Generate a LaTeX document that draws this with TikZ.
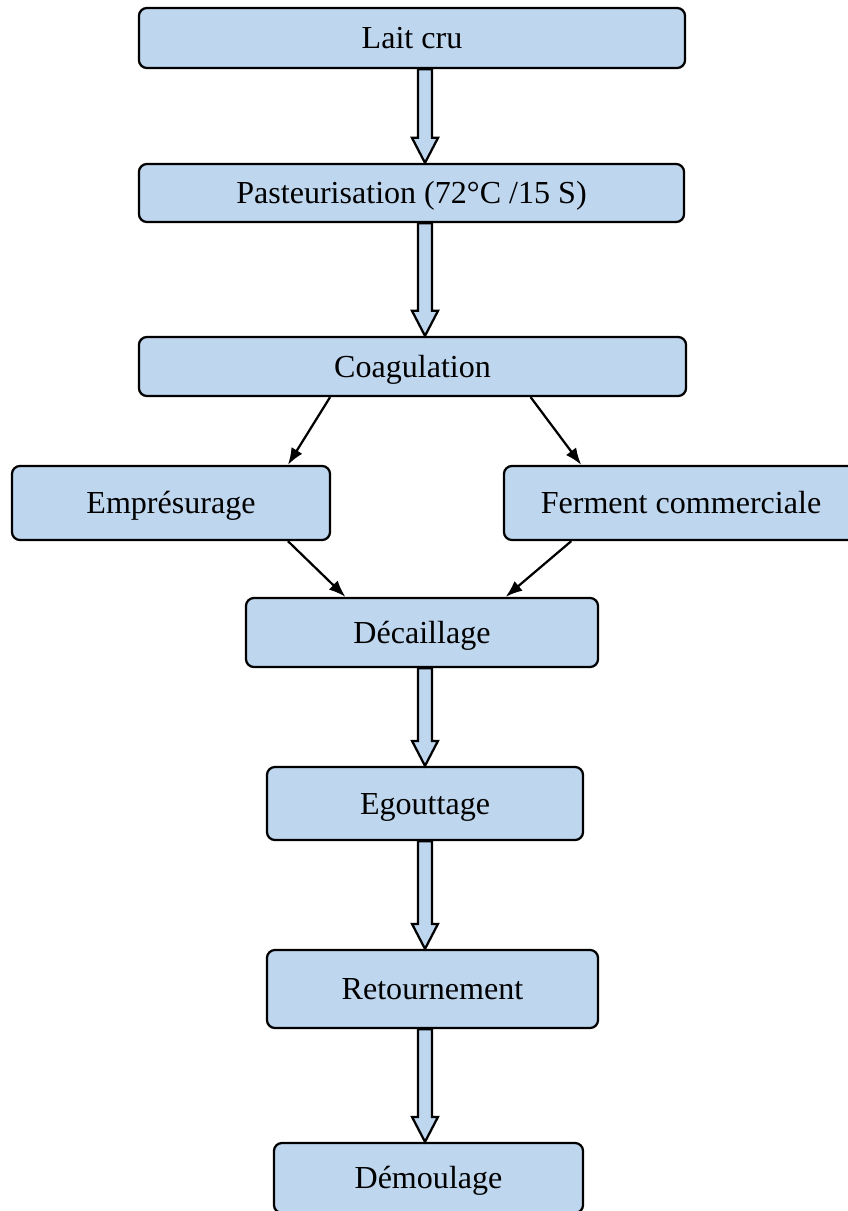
\documentclass[tikz,border=0pt]{standalone}
\usepackage{fontspec}
\setmainfont{Liberation Serif}
\usepackage{xcolor}
\usetikzlibrary{calc,arrows.meta}
\definecolor{boxblue}{RGB}{190,214,238}
\newcommand{\flowarrow}[2]{%
	\path (#1.south -| axis) coordinate (fa) (#2.north -| axis) coordinate (fb);
	\draw[flow] ($(fa)+(-7,0)$) -- ($(fb)+(-7,-25)$) -- ($(fb)+(-13,-25)$) -- (fb)
		-- ($(fb)+(13,-25)$) -- ($(fb)+(7,-25)$) -- ($(fa)+(7,0)$) -- cycle;
}

\begin{document}
\begin{tikzpicture}[x=0.025cm,y=-0.025cm,
	stage/.style={draw, line width=1.6pt, rounded corners=0.2cm, fill=boxblue, font=\fontsize{22.8}{27}\selectfont, inner sep=0pt, text height=20pt, text depth=4.5pt},
	flow/.style={draw, line width=1.6pt, fill=boxblue, line join=miter},
	link/.style={-{Latex[length=12pt,width=9pt]}, line width=1.6pt}]
	\useasboundingbox (0,0) rectangle (848,1211);
	\clip (0,0) rectangle (848,1211);
	\coordinate (axis) at (425,0);
	\node[stage, minimum width=13.65cm, minimum height=1.5cm] (lait) at (412,38) {Lait cru};
	\node[stage, minimum width=13.625cm, minimum height=1.45cm] (past) at (411.5,193) {Pasteurisation (72°C /15 S)};
	\node[stage, minimum width=13.675cm, minimum height=1.475cm] (coag) at (412.5,366.5) {Coagulation};
	\node[stage, minimum width=7.95cm, minimum height=1.85cm] (emp) at (171,503) {Emprésurage};
	\node[stage, minimum width=8.85cm, minimum height=1.85cm] (ferm) at (681,503) {Ferment commerciale};
	\node[stage, minimum width=8.8cm, minimum height=1.725cm] (dec) at (422,632.5) {Décaillage};
	\node[stage, minimum width=7.9cm, minimum height=1.825cm] (egou) at (425,803.5) {Egouttage};
	\node[stage, minimum width=8.275cm, minimum height=1.95cm] (ret) at (432.5,989) {Retournement};
	\node[stage, minimum width=7.725cm, minimum height=1.75cm] (demou) at (428.5,1178) {Démoulage};
	\flowarrow{lait}{past}
	\flowarrow{past}{coag}
	\flowarrow{dec}{egou}
	\flowarrow{egou}{ret}
	\flowarrow{ret}{demou}
	\draw[link] ($(coag.south west)!0.35!(coag.south east)$) to ($(emp.north west)!0.865!(emp.north east)$);
	\draw[link] ($(coag.south west)!0.715!(coag.south east)$) to ($(ferm.north west)!0.22!(ferm.north east)$);
	\draw[link] ($(emp.south west)!0.865!(emp.south east)$) to ($(dec.north west)!0.284!(dec.north east)$);
	\draw[link] ($(ferm.south west)!0.192!(ferm.south east)$) to ($(dec.north west)!0.736!(dec.north east)$);
\end{tikzpicture}
\end{document}
